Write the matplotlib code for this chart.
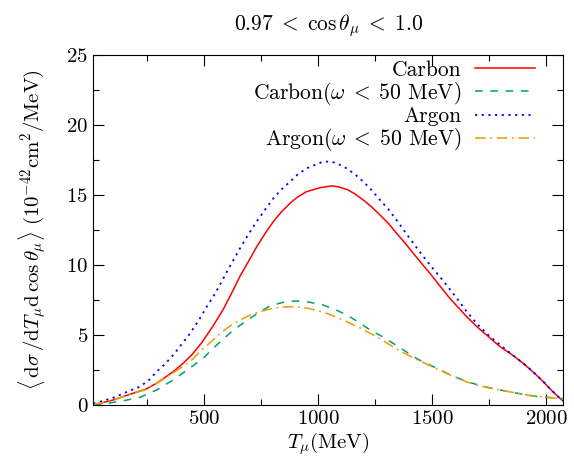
import numpy as np
import matplotlib
matplotlib.use('Agg')
import matplotlib.pyplot as plt
from matplotlib.ticker import MultipleLocator

plt.rcParams['font.family'] = 'serif'
plt.rcParams['font.serif'] = ['cmr10']
plt.rcParams['mathtext.fontset'] = 'cm'
plt.rcParams['axes.formatter.use_mathtext'] = True
plt.rcParams['font.size'] = 15

# values
t_carbon = [15, 44, 100, 146, 200, 241, 292, 365, 410, 450, 490, 540, 585, 620, 658, 700, 731, 770,
            804, 840, 877, 910, 950, 1009, 1060, 1090, 1126, 1160, 1199, 1235, 1272, 1310, 1345,
            1380, 1418, 1455, 1491, 1530, 1572, 1610, 1652, 1700, 1750, 1798, 1850, 1900, 1944,
            1985, 2018, 2045, 2061, 2075]
carbon = [0.05, 0.12, 0.35, 0.6, 0.9, 1.1, 1.55, 2.38, 3.0, 3.65, 4.45, 5.65, 6.85, 7.95, 9.2,
          10.4, 11.3, 12.3, 13.1, 13.8, 14.4, 14.85, 15.24, 15.52, 15.65, 15.58, 15.4, 15.1,
          14.64, 14.15, 13.57, 12.95, 12.26, 11.6, 10.83, 10.1, 9.4, 8.6, 7.74, 7.05, 6.31, 5.55,
          4.85, 4.17, 3.6, 2.98, 2.35, 1.72, 1.15, 0.72, 0.47, 0.3]

t_carbon_w = [15, 44, 100, 146, 219, 292, 365, 439, 497, 556, 629, 702, 750, 789, 850, 906, 960,
              1023, 1075, 1126, 1180, 1228, 1280, 1330, 1382, 1440, 1506, 1580, 1652, 1720, 1798,
              1870, 1944, 2000, 2057, 2075]
carbon_w = [0.03, 0.05, 0.18, 0.3, 0.55, 1.07, 1.79, 2.65, 3.35, 4.29, 5.36, 6.19, 6.7, 7.07,
            7.35, 7.43, 7.35, 7.14, 6.82, 6.43, 5.9, 5.36, 4.9, 4.4, 3.85, 3.25, 2.74, 2.15, 1.67,
            1.35, 1.07, 0.85, 0.64, 0.55, 0.48, 0.45]

t_argon = [15, 44, 100, 146, 219, 260, 292, 330, 365, 400, 439, 475, 512, 550, 585, 620, 658, 695,
           731, 770, 804, 840, 877, 910, 950, 1009, 1035, 1060, 1090, 1126, 1160, 1199, 1235, 1272,
           1310, 1345, 1380, 1418, 1455, 1491, 1530, 1564, 1610, 1652, 1700, 1750, 1798, 1850,
           1900, 1944, 1985, 2018, 2045, 2061, 2075]
argon = [0.1, 0.24, 0.5, 0.83, 1.31, 1.8, 2.38, 2.95, 3.57, 4.3, 5.12, 6.0, 7.02, 8.0, 9.05, 10.1,
         11.19, 12.2, 13.1, 14.0, 14.76, 15.4, 15.95, 16.45, 16.9, 17.3, 17.38, 17.38, 17.2, 16.9,
         16.5, 15.95, 15.35, 14.64, 13.95, 13.2, 12.4, 11.55, 10.75, 10.0, 9.25, 8.57, 7.6, 6.67,
         5.75, 4.95, 4.3, 3.62, 2.98, 2.36, 1.72, 1.16, 0.73, 0.48, 0.3]

t_argon_w = [15, 44, 100, 146, 200, 241, 292, 365, 439, 482, 530, 570, 610, 658, 700, 746, 800,
             848, 900, 960, 1038, 1080, 1126, 1185, 1243, 1300, 1352, 1420, 1506, 1580, 1652,
             1720, 1798, 1870, 1944, 2000, 2057, 2075]
argon_w = [0.05, 0.12, 0.35, 0.6, 0.9, 1.1, 1.55, 2.3, 3.1, 3.8, 4.5, 5.1, 5.6, 6.07, 6.4, 6.67,
           6.9, 7.0, 7.02, 6.9, 6.55, 6.28, 5.95, 5.5, 5.0, 4.45, 3.93, 3.35, 2.7, 2.15, 1.65,
           1.33, 1.07, 0.85, 0.64, 0.55, 0.48, 0.45]

fig = plt.figure(figsize=(5.74, 4.62), dpi=100)
ax = fig.add_axes([0.162, 0.1234, 0.819, 0.7576])

ax.plot(t_carbon, carbon, color='#ff0000', lw=1.1, label='Carbon')
ax.plot(t_carbon_w, carbon_w, color='#009e73', lw=1.1, dashes=(5, 5),
        label=r'Carbon($\omega\;<\;50$ MeV)')
ax.plot(t_argon, argon, color='#0000ff', lw=1.3, dashes=(1.2, 2.5), label='Argon')
ax.plot(t_argon_w, argon_w, color='#e69f00', lw=1.1, dashes=(7, 3, 1.2, 3),
        label=r'Argon($\omega\;<\;50$ MeV)')

ax.set_xlim(13, 2075)
ax.set_ylim(0, 25)
ax.xaxis.set_major_locator(MultipleLocator(500))
ax.xaxis.set_minor_locator(MultipleLocator(250))
ax.yaxis.set_major_locator(MultipleLocator(5))
ax.yaxis.set_minor_locator(MultipleLocator(2.5))
ax.tick_params(which='both', direction='in', top=True, right=True)
ax.tick_params(which='major', length=8, width=0.8)
ax.tick_params(which='minor', length=4, width=0.8)

ax.set_xlabel(r'$T_\mu$(MeV)', labelpad=2)
ax.set_ylabel(r'$\langle\,\mathrm{d}\sigma\,/\mathrm{d}T_\mu\mathrm{d}\,\cos\theta_\mu\rangle\ (10^{-42}\mathrm{cm}^2/\mathrm{MeV})$',
              labelpad=12)
ax.set_title(r'$0.97\;<\;\cos\theta_\mu\;<\;1.0$', pad=18, fontsize=15.5)

leg = ax.legend(loc='upper right', bbox_to_anchor=(0.94, 0.985), frameon=False,
                markerfirst=False, fontsize=15.5, handlelength=2.8, labelspacing=0.0,
                borderaxespad=0, borderpad=0, handletextpad=0.6)
for txt in leg.get_texts():
    txt.set_ha('right')
leg._legend_box.align = 'right'

fig.savefig('out.png', dpi=100)
